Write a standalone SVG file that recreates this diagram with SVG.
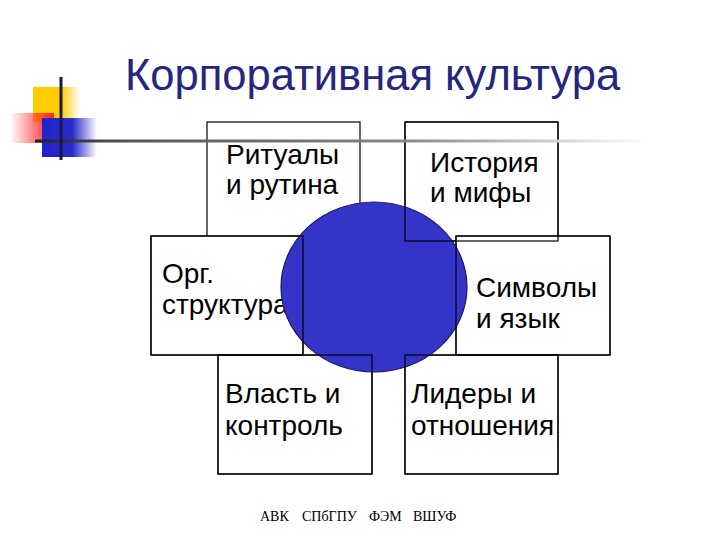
<svg xmlns="http://www.w3.org/2000/svg" width="720" height="540" viewBox="0 0 720 540">
<defs>
<linearGradient id="gY" x1="0" y1="0" x2="1" y2="0"><stop offset="0" stop-color="#FFCC00"/><stop offset="0.6" stop-color="#FFCC00"/><stop offset="1" stop-color="#FFCC00" stop-opacity="0"/></linearGradient>
<linearGradient id="gR" x1="0" y1="0" x2="1" y2="0"><stop offset="0" stop-color="#FF3333" stop-opacity="0"/><stop offset="0.7" stop-color="#FF3333" stop-opacity="0.8"/><stop offset="1" stop-color="#FF2222"/></linearGradient>
<linearGradient id="gB" x1="0" y1="0" x2="1" y2="0"><stop offset="0" stop-color="#2222CC"/><stop offset="0.55" stop-color="#2A2ACC"/><stop offset="1" stop-color="#2A2ACC" stop-opacity="0"/></linearGradient>
<linearGradient id="gL" gradientUnits="userSpaceOnUse" x1="35" y1="0" x2="650" y2="0"><stop offset="0" stop-color="#222222"/><stop offset="0.15" stop-color="#555555"/><stop offset="0.6" stop-color="#888888"/><stop offset="1" stop-color="#FFFFFF"/></linearGradient>
</defs>
<style>
.box{fill:#FFFFFF;stroke:#000000;stroke-width:1.2}
.ol{fill:none;stroke:#000000;stroke-width:1.2}
.t{font-family:"Liberation Sans",Arial,sans-serif;font-size:28px;fill:#000000}
.title{font-family:"Liberation Sans",Arial,sans-serif;font-size:43.5px;fill:#262680}
.foot{font-family:"Liberation Serif","Times New Roman",serif;font-size:14px;fill:#000000}
</style>
<rect width="720" height="540" fill="#FFFFFF"/>
<g id="decor">
<rect x="33" y="87" width="47" height="35" fill="url(#gY)"/>
<rect x="10" y="113" width="44" height="30" fill="url(#gR)"/>
<rect x="42" y="118" width="55" height="39" fill="url(#gB)"/>
</g>
<text class="title" x="125" y="90">Корпоративная культура</text>
<g id="node-ritualy"><rect class="box" x="207" y="122" width="153" height="119"/><text class="t" x="226" y="164">Ритуалы</text><text class="t" x="226" y="194">и рутина</text></g>
<g id="node-istoriya"><rect class="box" x="405" y="122" width="153" height="119"/><text class="t" x="430" y="172">История</text><text class="t" x="430" y="202">и мифы</text></g>
<g id="node-org"><rect class="box" x="151" y="236" width="152" height="119"/><text class="t" x="162" y="283">Орг.</text><text class="t" x="162" y="314">структура</text></g>
<g id="node-simvoly"><rect class="box" x="456" y="236" width="154" height="119"/><text class="t" x="476" y="297">Символы</text><text class="t" x="476" y="328">и язык</text></g>
<g id="node-vlast"><rect class="box" x="218" y="355" width="154" height="119"/><text class="t" x="225" y="403">Власть и</text><text class="t" x="225" y="435">контроль</text></g>
<g id="node-lidery"><rect class="box" x="405" y="355" width="153" height="119"/><text class="t" x="411" y="403">Лидеры и</text><text class="t" x="411" y="435">отношения</text></g>
<g id="node-center"><ellipse cx="374" cy="287" rx="93" ry="85" fill="#3434C8" stroke="#1A1A66" stroke-width="1.2"/></g>
<g id="connectors">
<rect class="ol" x="405" y="122" width="153" height="119"/>
<rect class="ol" x="151" y="236" width="152" height="119"/>
<rect class="ol" x="456" y="236" width="154" height="119"/>
<rect class="ol" x="218" y="355" width="154" height="119"/>
<rect class="ol" x="405" y="355" width="153" height="119"/>
</g>
<g id="decor-lines">
<line x1="35" y1="141" x2="650" y2="141" stroke="url(#gL)" stroke-width="3"/>
<line x1="61" y1="77" x2="61" y2="160" stroke="#1A1A40" stroke-width="3"/>
</g>
<g id="footer">
<text class="foot" x="260" y="521">АВК</text>
<text class="foot" x="302" y="521">СПбГПУ</text>
<text class="foot" x="369" y="521">ФЭМ</text>
<text class="foot" x="413" y="521">ВШУФ</text>
</g>
</svg>
